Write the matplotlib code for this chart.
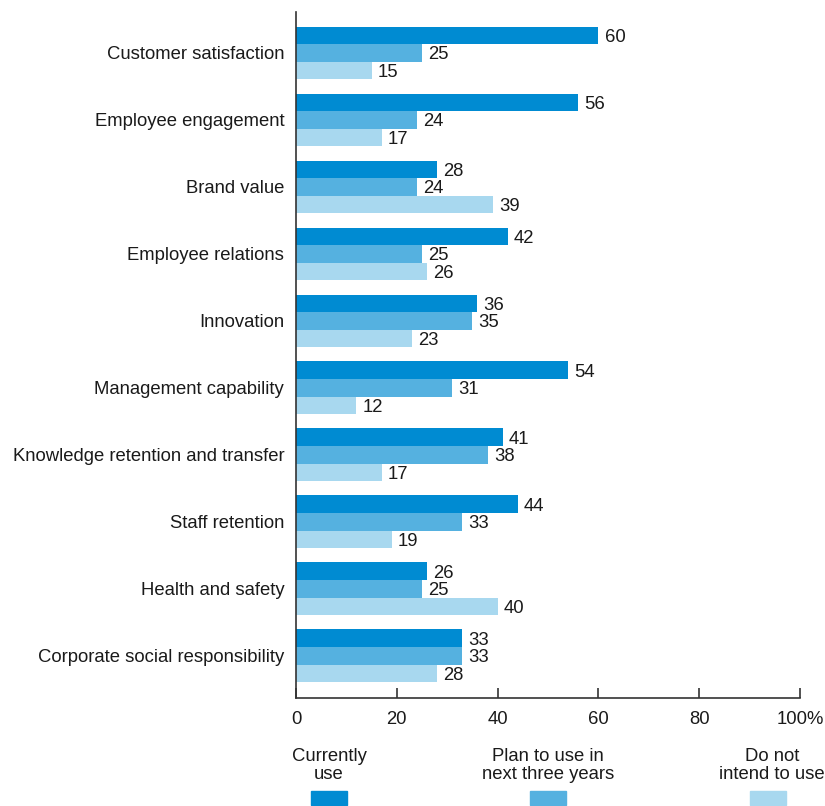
import matplotlib
matplotlib.use("Agg")
import matplotlib.pyplot as plt
import numpy as np

plt.rcParams["font.family"] = ["Liberation Sans", "DejaVu Sans"]

categories = [
    "Customer satisfaction",
    "Employee engagement",
    "Brand value",
    "Employee relations",
    "Innovation",
    "Management capability",
    "Knowledge retention and transfer",
    "Staff retention",
    "Health and safety",
    "Corporate social responsibility",
]
currently_use = [60, 56, 28, 42, 36, 54, 41, 44, 26, 33]
plan_to_use = [25, 24, 24, 25, 35, 31, 38, 33, 25, 33]
not_intend = [15, 17, 39, 26, 23, 12, 17, 19, 40, 28]

series_names = ["Currently\nuse", "Plan to use in\nnext three years", "Do not\nintend to use"]
series_colors = ["#008BD2", "#55B1E0", "#A8D8EF"]
x_ticks = [0, 20, 40, 60, 80, 100]
x_tick_labels = ["0", "20", "40", "60", "80", "100%"]

FS = 13.3
TXT = "#1a1a1a"

fig = plt.figure(figsize=(8.25, 8.06), dpi=100)
ax = fig.add_axes([296 / 825, 1 - 698 / 806, 504 / 825, 686 / 806])

y = np.arange(len(categories))
bar_h = 0.262
all_series = [currently_use, plan_to_use, not_intend]
for i, (vals, col) in enumerate(zip(all_series, series_colors)):
    pos = y + (i - 1) * bar_h
    ax.barh(pos, vals, height=bar_h, color=col, edgecolor="none")
    for p, v in zip(pos, vals):
        ax.annotate(str(v), xy=(v, p), xytext=(4.5, -1.5), textcoords="offset points",
                    va="center", ha="left", fontsize=FS, color=TXT)

ax.set_ylim(len(categories) - 1 + 0.63, -0.61)
ax.set_xlim(0, 100)
ax.set_yticks(y)
ax.set_yticklabels(categories, fontsize=FS, color=TXT)
ax.tick_params(axis="y", length=0, pad=8.5)
ax.set_xticks(x_ticks)
ax.set_xticklabels(x_tick_labels, fontsize=FS, color=TXT)
ax.tick_params(axis="x", direction="in", length=7, width=1.2, color="#333333", pad=9)

for s in ["top", "right"]:
    ax.spines[s].set_visible(False)
for s in ["left", "bottom"]:
    ax.spines[s].set_color("#333333")
    ax.spines[s].set_linewidth(1.2)

# Legend laid out as centred text blocks above colour swatches
legend_text_centers_px = [329, 548, 772]
legend_swatch_centers_px = [329, 548, 768]
for name, col, tx, sx in zip(series_names, series_colors,
                             legend_text_centers_px, legend_swatch_centers_px):
    fig.text(tx / 825, 1 - 748 / 806, name, ha="center", va="top", fontsize=FS,
             color=TXT, linespacing=1.1)
    fx = sx / 825
    fig.patches.append(plt.Rectangle((fx - 18 / 825, 1 - 805 / 806), 36 / 825, 14 / 806,
                                     transform=fig.transFigure, color=col))

fig.savefig("out.png", dpi=100)
